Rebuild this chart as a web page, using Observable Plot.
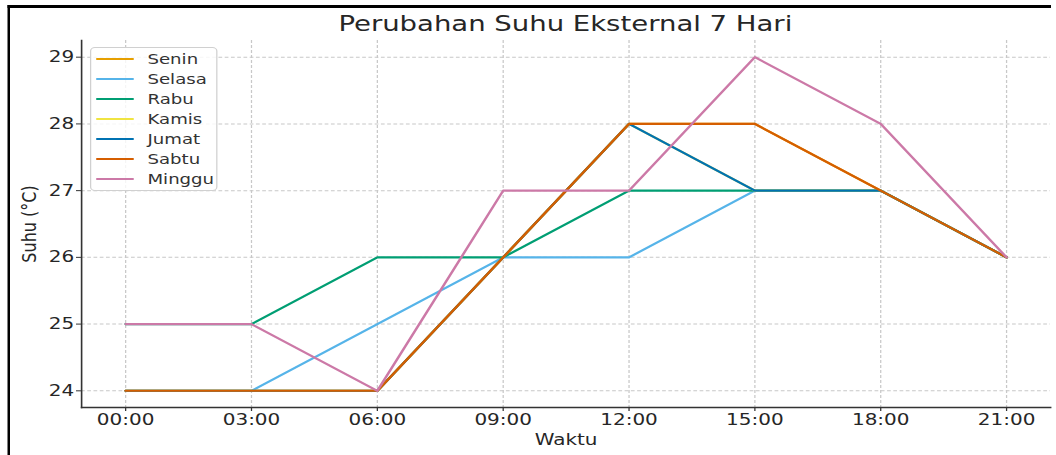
<!DOCTYPE html>
<html><head><meta charset="utf-8">
<script src="https://cdn.jsdelivr.net/npm/d3@7"></script>
<script src="https://cdn.jsdelivr.net/npm/@observablehq/plot@0.6"></script>
<style>
html,body{margin:0;padding:0;background:#fff;width:1056px;height:455px;overflow:hidden;}
#wrap{position:absolute;left:0;top:0;width:845px;height:455px;transform:scaleX(1.2497);transform-origin:0 0;font-family:"DejaVu Sans",sans-serif;color:#262626;}
#bTop{position:absolute;left:5.6px;top:5px;width:835.5px;height:2.5px;background:#000;}
#bLeft{position:absolute;left:5.6px;top:5px;width:2.2px;height:460px;background:#000;}
#title{position:absolute;top:5px;left:64.8px;width:775.2px;height:38px;line-height:38px;text-align:center;font-size:22px;}
#chart{position:absolute;left:0;top:38px;}
#legend{position:absolute;left:71.5px;top:46.7px;width:102px;height:144px;border:1px solid #d0d0d0;border-radius:4px;background:rgba(255,255,255,0.82);box-sizing:border-box;}
.row{position:absolute;left:0;height:20px;width:100%;}
.sw{position:absolute;left:4px;top:9px;width:30px;height:2px;}
.lb{position:absolute;left:45.5px;top:0;line-height:20px;font-size:14.5px;color:#333;}
</style></head>
<body>
<div id="wrap">
  <div id="bTop"></div><div id="bLeft"></div>
  <div id="title">Perubahan Suhu Eksternal 7 Hari</div>
  <div id="chart"></div>
  <div id="legend"></div>
</div>
<script>
const times = ["00:00","03:00","06:00","09:00","12:00","15:00","18:00","21:00"];
const days = ["Senin","Selasa","Rabu","Kamis","Jumat","Sabtu","Minggu"];
const senin  = [24,24,24,26,28,28,27,26];
const selasa = [24,24,25,26,26,27,27,26];
const rabu   = [25,25,26,26,27,27,27,26];
const kamis  = [24,24,24,26,28,27,27,26];
const jumat  = [24,24,24,26,28,27,27,26];
const sabtu  = [24,24,24,26,28,28,27,26];
const minggu = [25,25,24,27,27,29,28,26];
const colors = ["#E69F00","#56B4E9","#009E73","#F0E442","#0072B2","#D55E00","#CC79A7"];
const yTicks = [24,25,26,27,28,29];
const yDomain = [23.75,29.25];

const series = [senin,selasa,rabu,kamis,jumat,sabtu,minggu];
const rows = days.map((d,i)=>series[i].map((v,j)=>({day:d,time:times[j],temp:v})));

const gridStyle = {stroke:"#c8c8c8",strokeOpacity:1,strokeDasharray:"3,2",strokeWidth:1};
const chart = Plot.plot({
  width:845, height:417,
  marginLeft:64.8, marginRight:4.8, marginTop:2, marginBottom:48,
  style:{fontFamily:"DejaVu Sans, sans-serif",fontSize:"16px",color:"#262626",background:"transparent",overflow:"visible"},
  x:{type:"point",domain:times,padding:0.35,round:false,label:null},
  y:{domain:yDomain,ticks:yTicks,label:null},
  marks:[
    Plot.gridX(gridStyle),
    Plot.gridY({ticks:yTicks,...gridStyle}),
    ...rows.map((r,i)=>Plot.line(r,{x:"time",y:"temp",stroke:colors[i],strokeWidth:2.1})),
    Plot.frame({anchor:"left",stroke:"#333",strokeWidth:1.3}),
    Plot.frame({anchor:"bottom",stroke:"#333",strokeWidth:1.3}),
    Plot.axisX({tickSize:4,tickPadding:2,label:null,stroke:"#333"}),
    Plot.axisY({ticks:yTicks,tickFormat:d=>String(d),tickSize:4,tickPadding:2,label:null,stroke:"#333"}),
    Plot.text(["Suhu (°C)"],{frameAnchor:"left",textAnchor:"middle",dx:-42,rotate:-90,fontSize:16}),
    Plot.text(["Waktu"],{frameAnchor:"bottom",textAnchor:"middle",dy:37,fontSize:16})
  ]
});
document.getElementById("chart").appendChild(chart);

const leg = document.getElementById("legend");
days.forEach((d,i)=>{
  const row = document.createElement("div");
  row.className="row";
  row.style.top = (1+20*i)+"px";
  row.innerHTML = `<div class="sw" style="background:${colors[i]}"></div><div class="lb">${d}</div>`;
  leg.appendChild(row);
});
</script>
</body></html>
